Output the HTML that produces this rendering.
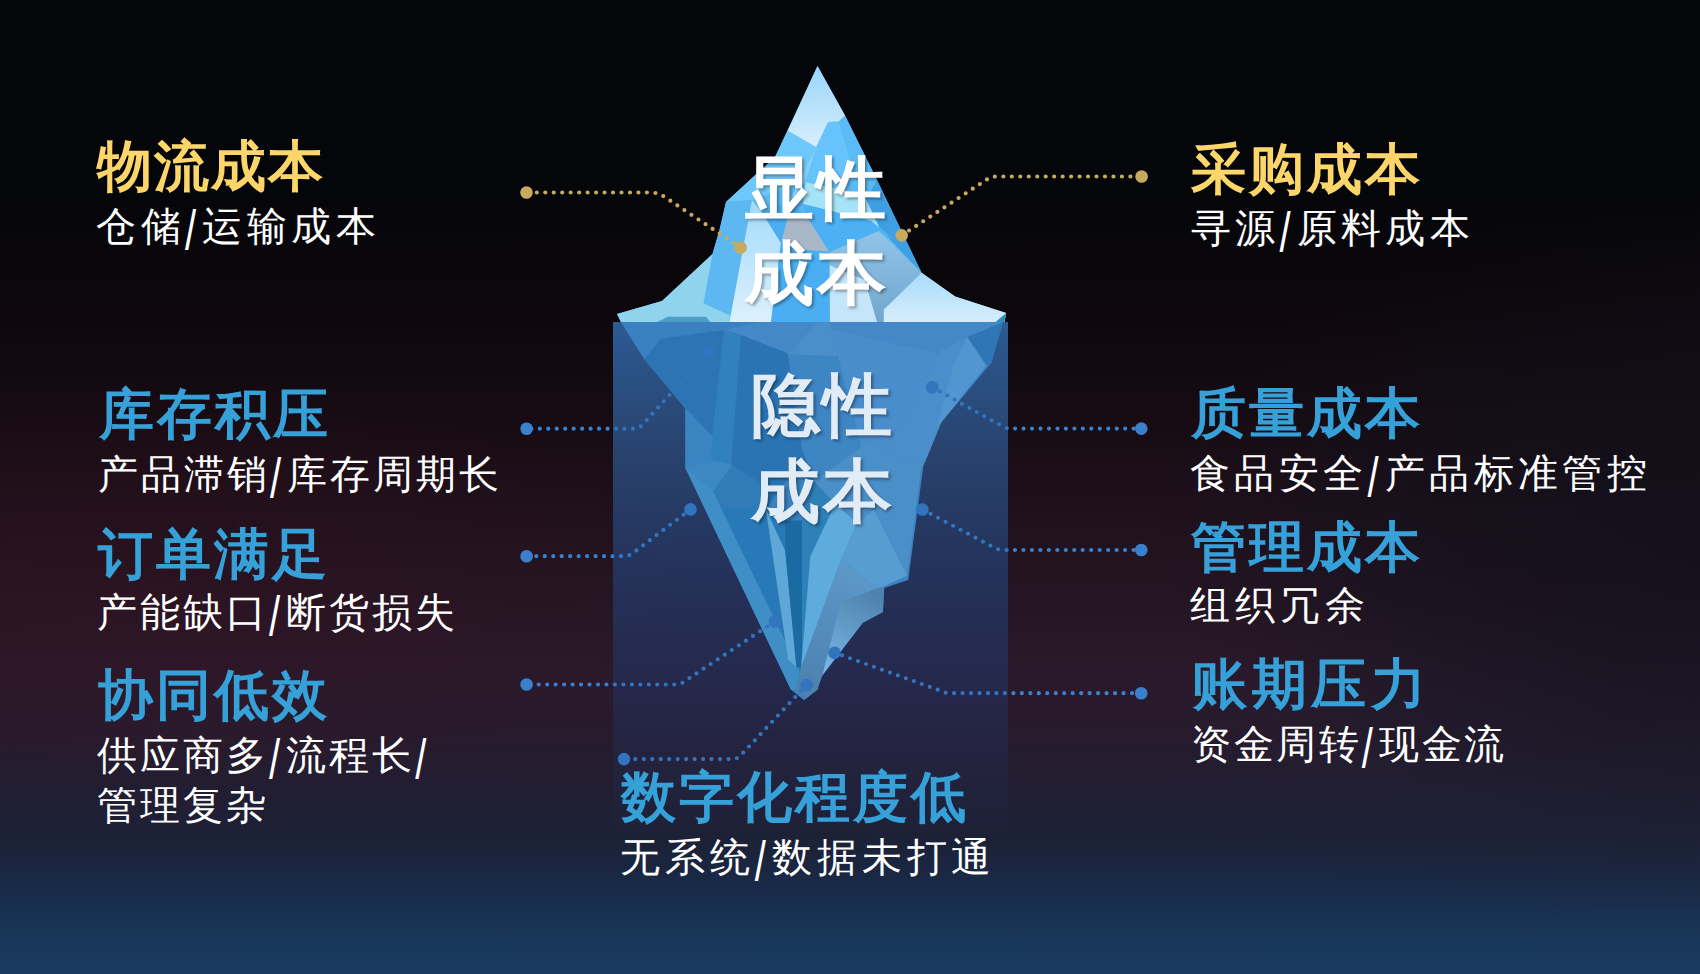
<!DOCTYPE html>
<html><head><meta charset="utf-8">
<style>
html,body{margin:0;padding:0}
body{width:1700px;height:974px;overflow:hidden;position:relative;font-family:"Liberation Sans",sans-serif;
background:linear-gradient(180deg,#040609 0%,#05060a 20%,#0c070b 31%,#180c14 44%,#221320 57%,#2a192a 69%,#271b2d 76%,#211e33 82%,#1b2238 87%,#192a48 91%,#183454 95%,#1a3c62 100%);}
#glow{position:absolute;left:0;top:0;width:1700px;height:974px;
background:radial-gradient(ellipse 560px 200px at 150px 590px,rgba(62,16,30,0.28) 0%,rgba(62,16,30,0.12) 60%,rgba(62,16,30,0) 100%),
radial-gradient(ellipse 640px 330px at 1790px 520px,rgba(16,16,26,0.85) 0%,rgba(16,16,26,0.55) 50%,rgba(16,16,26,0) 100%),radial-gradient(ellipse 600px 170px at 1750px 760px,rgba(30,32,50,0.55) 0%,rgba(30,32,50,0.3) 50%,rgba(30,32,50,0) 100%);}
svg{position:absolute;left:0;top:0}
.t{position:absolute;white-space:nowrap;line-height:1}
.h{font-size:55px;letter-spacing:3px;font-weight:700}
.s{font-size:40px;letter-spacing:3px;color:#fff}
.y{color:#fcd669}
.b{color:#36a0d8}
.sl{display:inline-block;letter-spacing:6px;transform:translateY(4px) scaleY(1.38)}
.lab{font-weight:700;font-size:69px;letter-spacing:2.5px;color:#fff;text-shadow:2px 2px 3px rgba(0,0,0,0.35)}
.lab2{font-weight:700;font-size:69px;letter-spacing:2.5px;color:#e1ecf7;text-shadow:2px 2px 3px rgba(0,0,0,0.35)}
</style></head><body>
<div id="glow"></div>
<svg width="1700" height="974" viewBox="0 0 1700 974">
  <defs>
    <linearGradient id="ov" x1="0" y1="322" x2="0" y2="835" gradientUnits="userSpaceOnUse">
      <stop offset="0" stop-color="#3a82d2" stop-opacity="0.68"/>
      <stop offset="0.24" stop-color="#3a80d2" stop-opacity="0.48"/>
      <stop offset="0.7" stop-color="#1656b0" stop-opacity="0.25"/>
      <stop offset="0.88" stop-color="#1656b0" stop-opacity="0.1"/>
      <stop offset="1" stop-color="#1656b0" stop-opacity="0"/>
    </linearGradient>
    <linearGradient id="lmg" x1="0" y1="322" x2="0" y2="720" gradientUnits="userSpaceOnUse">
      <stop offset="0" stop-color="#e4e4e4"/><stop offset="1" stop-color="#fff"/>
    </linearGradient>
    <clipPath id="cout"><path d="M0,0H1700V974H0Z M613,322V974H1008V322Z" clip-rule="evenodd"/></clipPath>
    <clipPath id="cin"><rect x="613" y="322" width="395" height="652"/></clipPath>
    <mask id="lm" maskUnits="userSpaceOnUse" x="0" y="0" width="1700" height="974">
      <rect x="0" y="0" width="1700" height="974" fill="#fff"/>
      <rect x="613" y="322" width="395" height="398" fill="url(#lmg)"/>
    </mask>
  </defs>
  <rect x="613" y="322" width="395" height="513" fill="url(#ov)"/>
  <g id="under">
  <polygon fill="#3a82c2" points="621,322 1003,322 991.4,362.6 936.4,428.3 923.5,464.9 908.2,580 884.2,588.1 882.9,612.1 862.8,622.8 820.1,678.8 817.5,689.5 804.1,700.2 790.8,689.5 685.4,468 685.4,408.6 644.4,359.3"/>
  <!-- top band -->
  <polygon fill="#3b80c0" points="621,322 760,322 724.3,330 660.8,338.7 644.4,359.3"/>
  <polygon fill="#4488c8" points="760,322 1003,322 986,338 935,353.6 835.3,330 788,353.6 740.8,334.7 724.3,330"/>
  <!-- left dark facet -->
  <polygon fill="#2c74b4" points="644.4,359.3 660.8,338.7 724.3,330 712.5,436.3 685.4,408.6"/>
  <polygon fill="#3a84c2" points="685.4,408.6 712.5,436.3 711.3,457.5 685.4,468"/>
  <!-- vertical stripe -->
  <polygon fill="#3281bf" points="724.3,330 740.8,334.7 729,495.3 711.3,457.5 712.5,436.3"/>
  <!-- mid-left facet -->
  <polygon fill="#2a74b3" points="740.8,334.7 788,353.6 802,448 814,481 792.8,471.7 765.9,509.3 763.1,484.3 729,495.3"/>
  <!-- big center -->
  <polygon fill="#4a8dcc" points="788,353.6 835.3,330 936.8,353.6 918,400.8 882.5,452.8 871.2,440 814,481 802,448"/>
  <!-- right facet -->
  <polygon fill="#4b8ecc" points="936.8,353.6 967.5,337 986.4,365.4 941.5,422 925,462.2 882.5,452.8 918,400.8"/>
  <polygon fill="#3e85c4" points="788.2,354.4 817.8,322 829.3,322 868.7,475 845,478 814,481 802,448"/>
  <polygon fill="#4a8fc9" points="788.2,354.4 817.8,322 829.3,322 838,356"/>
  <polygon fill="#5296d0" points="954,364 967.5,337 986.4,365.4 936.4,428.3"/>
  <polygon fill="#2f76b6" points="967.5,337 1003,322 991.4,362.6 986.4,365.4"/>
  <!-- lower left -->
  <polygon fill="#3c88c2" points="685.4,468 710.5,459.4 732.7,465 713.3,491.3"/>
  <polygon fill="#2f7cb8" points="713.3,491.3 732.7,465 763.1,484.3 765.9,509.3 718.8,507.9"/>
  <polygon fill="#2879b7" points="718.8,507.9 765.9,509.3 785.3,520.4 788,659 802,670 796.4,689.4"/>
  <!-- edge band -->
  <polygon fill="#3f8ec6" points="685.4,468 713.3,491.3 722,510 800,672 796.4,689.4 790.8,689.5"/>
  <!-- light thin stripe -->
  <polygon fill="#5ea8d8" points="765.9,509.3 785.3,550.9 796.4,667.3 788,659"/>
  <!-- dark stripe -->
  <polygon fill="#1b6aa1" points="785.3,520.4 802,520.4 802,667.3 796.4,667.3 785.3,550.9"/>
  <polygon fill="#2d80b8" points="802,520.4 814,481 835.2,503.7 810.3,556.4 802,667.3"/>
  <!-- light center-right -->
  <polygon fill="#5eabdd" points="810.3,556.4 835.2,503.7 857.4,523.1 841,560 801,668"/>
  <!-- right -->
  <polygon fill="#579dd1" points="857.4,523.1 874,509.3 907.3,575.8 882.3,586.9 878,588 841,560"/>
  <polygon fill="#4b8fc8" points="814,481 871.2,440 882.5,452.8 925,462.2 921.1,467.7 907.3,575.8 874,509.3 857.4,523.1 835.2,503.7"/>
  <!-- jagged lower right -->
  <linearGradient id="gband" x1="860" y1="570" x2="805" y2="695" gradientUnits="userSpaceOnUse"><stop offset="0" stop-color="#5c98c9"/><stop offset="1" stop-color="#4c80ae"/></linearGradient>
  <linearGradient id="gjag" x1="872" y1="592" x2="828" y2="672" gradientUnits="userSpaceOnUse"><stop offset="0" stop-color="#4f82ae"/><stop offset="1" stop-color="#78b6e2"/></linearGradient>
  <polygon fill="url(#gband)" points="841,560 878,588 840.5,602.7 822.4,675 817.5,689.8 804.4,699.6 796.1,689.8 801,668"/>
  <polygon fill="url(#gjag)" points="840.5,602.7 882.3,586.9 884.2,588.1 882.9,612.1 862.8,622.8 822.4,675"/>
</g>
  <g clip-path="url(#cout)">
  <g id="bluelines" fill="none" stroke="#3a80cc" stroke-width="4.2" stroke-linecap="round" stroke-dasharray="0 8.47">
    <path stroke-dashoffset="3.74" d="M526.6,428.7 L634,428.7 Q640,428.7 644,423 L709.3,351.4"/>
    <path stroke-dashoffset="0.85" d="M1141.3,428.6 L1012,428.6 Q1006,428.6 1002,426 L932.1,387.2"/>
    <path stroke-dashoffset="7.24" d="M526.6,556.2 L624,556.2 Q629,556.2 633,553 L690.5,509.4"/>
    <path stroke-dashoffset="0.72" d="M1141.3,550 L1004,550 Q998,550 994,547.5 L922.4,509.5"/>
    <path stroke-dashoffset="4.84" d="M526.6,684.5 L676,684.5 Q681,684.5 685,681 L774.8,621.5"/>
    <path stroke-dashoffset="7.71" d="M1141.2,693.2 L950,693.2 Q945,693.2 940,690.5 L834.5,652.7"/>
    <path stroke-dashoffset="5.61" d="M624,759.1 L733,759.1 Q738,759.1 742,754 L806.5,685"/>
  </g>
  <g fill="#3a80cc">
    <circle cx="526.6" cy="428.7" r="6.3"/><circle cx="709.3" cy="351.4" r="6.3"/>
    <circle cx="1141.3" cy="428.6" r="6.3"/><circle cx="932.1" cy="387.2" r="6.3"/>
    <circle cx="526.6" cy="556.2" r="6.3"/><circle cx="690.5" cy="509.4" r="6.3"/>
    <circle cx="1141.3" cy="550" r="6.3"/><circle cx="922.4" cy="509.5" r="6.3"/>
    <circle cx="526.6" cy="684.5" r="6.3"/><circle cx="774.8" cy="621.5" r="6.3"/>
    <circle cx="1141.2" cy="693.2" r="6.3"/><circle cx="834.5" cy="652.7" r="6.3"/>
    <circle cx="624" cy="759.1" r="6.3"/><circle cx="806.5" cy="685" r="6.3"/>
  </g>
  </g>
  <g clip-path="url(#cin)">
  <g  fill="none" stroke="#3274be" stroke-width="4.2" stroke-linecap="round" stroke-dasharray="0 8.47">
    <path stroke-dashoffset="3.74" d="M526.6,428.7 L634,428.7 Q640,428.7 644,423 L709.3,351.4"/>
    <path stroke-dashoffset="0.85" d="M1141.3,428.6 L1012,428.6 Q1006,428.6 1002,426 L932.1,387.2"/>
    <path stroke-dashoffset="7.24" d="M526.6,556.2 L624,556.2 Q629,556.2 633,553 L690.5,509.4"/>
    <path stroke-dashoffset="0.72" d="M1141.3,550 L1004,550 Q998,550 994,547.5 L922.4,509.5"/>
    <path stroke-dashoffset="4.84" d="M526.6,684.5 L676,684.5 Q681,684.5 685,681 L774.8,621.5"/>
    <path stroke-dashoffset="7.71" d="M1141.2,693.2 L950,693.2 Q945,693.2 940,690.5 L834.5,652.7"/>
    <path stroke-dashoffset="5.61" d="M624,759.1 L733,759.1 Q738,759.1 742,754 L806.5,685"/>
  </g>
  <g fill="#3274be">
    <circle cx="526.6" cy="428.7" r="6.3"/><circle cx="709.3" cy="351.4" r="6.3"/>
    <circle cx="1141.3" cy="428.6" r="6.3"/><circle cx="932.1" cy="387.2" r="6.3"/>
    <circle cx="526.6" cy="556.2" r="6.3"/><circle cx="690.5" cy="509.4" r="6.3"/>
    <circle cx="1141.3" cy="550" r="6.3"/><circle cx="922.4" cy="509.5" r="6.3"/>
    <circle cx="526.6" cy="684.5" r="6.3"/><circle cx="774.8" cy="621.5" r="6.3"/>
    <circle cx="1141.2" cy="693.2" r="6.3"/><circle cx="834.5" cy="652.7" r="6.3"/>
    <circle cx="624" cy="759.1" r="6.3"/><circle cx="806.5" cy="685" r="6.3"/>
  </g>
  </g>
  <g id="top">
  <defs>
    <linearGradient id="gtip" x1="0" y1="66" x2="0" y2="147" gradientUnits="userSpaceOnUse"><stop offset="0" stop-color="#98d6fb"/><stop offset="1" stop-color="#d8eefd"/></linearGradient>
    <linearGradient id="glb" x1="0" y1="200" x2="0" y2="322" gradientUnits="userSpaceOnUse"><stop offset="0" stop-color="#a2dbfa"/><stop offset="1" stop-color="#dcf0fd"/></linearGradient>
    <linearGradient id="grb" x1="0" y1="270" x2="0" y2="322" gradientUnits="userSpaceOnUse"><stop offset="0" stop-color="#a6dafa"/><stop offset="1" stop-color="#d6eefc"/></linearGradient>
    <clipPath id="ctop"><rect x="0" y="0" width="1700" height="322"/></clipPath>
  </defs>
  <g clip-path="url(#ctop)">
  <!-- base silhouette -->
  <polygon fill="#5cb9f3" points="817.5,66 845,115.5 877,180 921.6,272.8 955,296.6 1006,313 1004,324 622,324 617,314 662,301 712.5,254 719.5,230 726,202 775,157"/>
  <!-- tip -->
  <polygon fill="url(#gtip)" points="817.5,66 845,115.5 839,121.6 828.3,122.1 816.2,147.2 787.7,130.8"/>
  <!-- left under tip -->
  <polygon fill="#6fc8fb" points="787.7,130.8 816.2,147.2 805,182 752,200 726,202 775,157"/>
  <polygon fill="#87d2f9" points="816.2,147.2 832,175 805,182 790,200"/>
  <!-- right under tip -->
  <polygon fill="#66c3fb" points="816.2,147.2 828.3,122.1 839,121.6 850,160 848,191 805,182"/>
  <polygon fill="#5bbbf7" points="839,121.6 845,115.5 877,180 866,199 848,191 850,160"/>
  <!-- right edge darker band -->
  <polygon fill="#3f9fe3" points="877,180 921.6,272.8 900,250 879,227 866,199"/>
  <!-- cyan stripe -->
  <polygon fill="#a5e3f6" points="805,182 848,191 866,199 879,227 895,240 871,221 803,204"/>
  <!-- blue below stripe -->
  <polygon fill="#4cb1f4" points="803,204 871,221 895,240 878.9,230.9 829.6,252.3 806,216"/>
  <!-- left big blue -->
  <polygon fill="#5db8f1" points="726,202 752,200 729.5,322 703.5,322 703.5,303.2 712.5,254 719.5,230"/>
  <!-- light stripe -->
  <polygon fill="url(#glb)" points="752,200 763,214 781,243 771,322 729.5,322"/>
  <!-- blue C -->
  <polygon fill="#4aaff2" points="763,214 790,200 806,216 782,239.5 797.6,249.3 829.6,252.3 829.6,265 840,322 771,322 781,243"/>
  <!-- gray -->
  <polygon fill="#a9b8c8" points="787.8,217.1 806.3,216.1 828.8,251.2 797.6,249.3 782,239.5"/>
  <!-- light under ben -->
  <polygon fill="#c4e5fa" points="829.6,265 865,280 877.2,322 830,322"/>
  <!-- gray-blue H -->
  <linearGradient id="gH" x1="0" y1="235" x2="0" y2="322" gradientUnits="userSpaceOnUse"><stop offset="0" stop-color="#8fc3e6"/><stop offset="1" stop-color="#72a6ce"/></linearGradient>
  <polygon fill="url(#gH)" points="829.6,252.3 878.9,230.9 921.6,272.8 883.8,309.8 883.8,322 877.2,322 865,280 829.6,265"/>
  <!-- lower right light -->
  <polygon fill="url(#grb)" points="921.6,272.8 955.2,296.6 1006.2,313.1 1004,324 883.8,324 883.8,309.8"/>
  <!-- left lower light cyan -->
  <polygon fill="#2b8fbd" points="995.5,322 1006.2,313.1 1004,324"/>
  <polygon fill="#8fd3ec" points="617,314 662,301 712.5,254 703.5,303.2 729.8,315.5 729.8,324 622,324"/>
  <polygon fill="#4c9fc5" points="653,324 668,316.8 706,316.8 712,324"/>
  </g>
</g>
  <g fill="none" stroke="#c8aa5e" stroke-width="4.2" stroke-linecap="round" stroke-dasharray="0 8.47">
    <path stroke-dashoffset="6.64" d="M526.5,192.5 L650,192.5 Q658,192.5 664,196.5 L740.6,247.6"/>
    <path stroke-dashoffset="5.74" d="M1141.6,176.5 L997,176.5 Q991,176.5 986,180 L901.7,235.4"/>
  </g>
  <g fill="#c8aa5e">
    <circle cx="526.5" cy="192.5" r="6.3"/><circle cx="740.6" cy="247.6" r="6.3"/>
    <circle cx="1141.6" cy="176.5" r="6.3"/><circle cx="901.7" cy="235.4" r="6.3"/>
  </g>
</svg>

<div class="t h y" style="left:97px;top:139px;letter-spacing:2px">物流成本</div>
<div class="t s" style="left:96px;top:206px;letter-spacing:4.5px">仓储<span class="sl">/</span>运输成本</div>
<div class="t h b" style="left:99px;top:387px">库存积压</div>
<div class="t s" style="left:98px;top:454px">产品滞销<span class="sl">/</span>库存周期长</div>
<div class="t h b" style="left:98px;top:527px">订单满足</div>
<div class="t s" style="left:97px;top:592px">产能缺口<span class="sl">/</span>断货损失</div>
<div class="t h b" style="left:98px;top:668px">协同低效</div>
<div class="t s" style="left:97px;top:735px">供应商多<span class="sl">/</span>流程长<span class="sl">/</span></div>
<div class="t s" style="left:97px;top:785px">管理复杂</div>

<div class="t h y" style="left:1191px;top:142px">采购成本</div>
<div class="t s" style="left:1191px;top:208px;letter-spacing:4.3px">寻源<span class="sl">/</span>原料成本</div>
<div class="t h b" style="left:1191px;top:386px">质量成本</div>
<div class="t s" style="left:1190px;top:453px;letter-spacing:4.4px">食品安全<span class="sl">/</span>产品标准管控</div>
<div class="t h b" style="left:1191px;top:520px">管理成本</div>
<div class="t s" style="left:1190px;top:585px;letter-spacing:5px">组织冗余</div>
<div class="t h b" style="left:1192px;top:657px;letter-spacing:4.5px">账期压力</div>
<div class="t s" style="left:1191px;top:724px;letter-spacing:2.7px">资金周转<span class="sl">/</span>现金流</div>

<div class="t h b" style="left:621px;top:770px">数字化程度低</div>
<div class="t s" style="left:620px;top:837px;letter-spacing:4.9px">无系统<span class="sl">/</span>数据未打通</div>

<div class="t lab" style="left:745px;top:154px">显性</div>
<div class="t lab" style="left:745px;top:239px">成本</div>
<div class="t lab2" style="left:751px;top:371px">隐性</div>
<div class="t lab2" style="left:751px;top:457px">成本</div>
</body></html>
